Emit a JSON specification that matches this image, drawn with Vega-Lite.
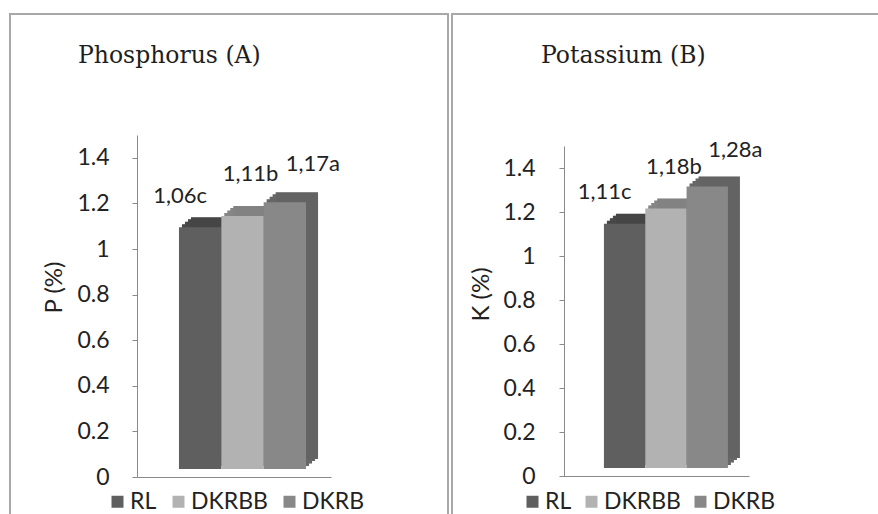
{
  "$schema": "https://vega.github.io/schema/vega-lite/v6.json",
  "background": "white",
  "padding": {"left": 9, "top": 13, "right": 0, "bottom": 0},
  "spacing": 2,
  "data": {"values": [
    {"panel": "P", "treatment": "RL", "value": 1.06, "label": "1,06c"},
    {"panel": "P", "treatment": "DKRBB", "value": 1.11, "label": "1,11b"},
    {"panel": "P", "treatment": "DKRB", "value": 1.17, "label": "1,17a"},
    {"panel": "K", "treatment": "RL", "value": 1.11, "label": "1,11c"},
    {"panel": "K", "treatment": "DKRBB", "value": 1.18, "label": "1,18b"},
    {"panel": "K", "treatment": "DKRB", "value": 1.28, "label": "1,28a"}
  ]},
  "resolve": {"scale": {"x": "independent", "y": "independent", "color": "independent"}, "legend": {"color": "independent"}},
  "hconcat": [
    {
      "width": 438, "height": 505,
      "transform": [{"filter": "datum.panel === 'P'"}],
      "title": {"text": "Phosphorus (A)", "anchor": "start", "frame": "group", "orient": "top", "offset": -53, "dx": 68, "font": "DejaVu Serif", "fontSize": 23.5, "fontWeight": "normal", "color": "#1e1e1e"},
      "encoding": {
        "x": {"field": "treatment", "type": "nominal", "sort": ["RL", "DKRBB", "DKRB"],
          "scale": {"range": [127, 321], "paddingInner": 0, "paddingOuter": 0.79, "align": 0.627},
          "axis": {"orient": "bottom", "offset": -42, "labels": false, "ticks": false, "title": null, "domain": true, "domainColor": "#8a8a8a", "domainWidth": 1}},
        "y": {"field": "value", "type": "quantitative",
          "scale": {"domain": [0, 1.5], "range": [463, 121], "nice": false, "zero": true},
          "axis": {"orient": "left", "offset": -127, "values": [0, 0.2, 0.4, 0.6, 0.8, 1, 1.2, 1.4], "format": "~g", "grid": false, "tickSize": 5, "tickColor": "#8a8a8a", "domainColor": "#8a8a8a", "labelPadding": 23, "labelFont": "Lato", "labelFontSize": 23, "labelColor": "#222", "title": "P (%)", "titleFont": "Lato", "titleFontSize": 24, "titleFontWeight": "normal", "titleColor": "#222", "titleX": -83, "titleY": 273, "titleBaseline": "middle", "titleAngle": -90, "titleAlign": "center"}},
        "color": {"field": "treatment", "type": "nominal", "sort": ["RL", "DKRBB", "DKRB"],
          "scale": {"domain": ["RL", "DKRBB", "DKRB"], "range": ["#5f5f5f", "#b2b2b2", "#888888"]},
          "legend": {"orient": "none", "legendX": 96, "legendY": 476, "direction": "horizontal", "title": null, "symbolType": "square", "symbolSize": 144, "symbolStrokeWidth": 0, "labelFont": "Lato", "labelFontSize": 23, "labelColor": "#222", "labelOffset": 1, "columnPadding": 10}}
      },
      "layer": [
        {"mark": {"type": "bar", "xOffset": 3, "x2Offset": 3, "yOffset": -11, "y2Offset": -11}},
        {"mark": {"type": "bar", "xOffset": 3, "x2Offset": 3, "yOffset": -11, "y2Offset": -11, "opacity": 0.25}, "encoding": {"color": {"value": "black"}}},
        {"mark": {"type": "bar", "xOffset": 6, "x2Offset": 6, "yOffset": -13.5, "y2Offset": -13.5}},
        {"mark": {"type": "bar", "xOffset": 6, "x2Offset": 6, "yOffset": -13.5, "y2Offset": -13.5, "opacity": 0.25}, "encoding": {"color": {"value": "black"}}},
        {"mark": {"type": "bar", "xOffset": 9, "x2Offset": 9, "yOffset": -16, "y2Offset": -16}},
        {"mark": {"type": "bar", "xOffset": 9, "x2Offset": 9, "yOffset": -16, "y2Offset": -16, "opacity": 0.25}, "encoding": {"color": {"value": "black"}}},
        {"mark": {"type": "bar", "xOffset": 12, "x2Offset": 12, "yOffset": -18, "y2Offset": -18}},
        {"mark": {"type": "bar", "xOffset": 12, "x2Offset": 12, "yOffset": -18, "y2Offset": -18, "opacity": 0.27}, "encoding": {"color": {"value": "black"}}},
        {"mark": {"type": "bar", "yOffset": -8, "y2Offset": -8}},
        {"mark": {"type": "text", "font": "Lato", "fontSize": 22, "baseline": "alphabetic", "align": "center",
            "dx": {"expr": "datum.treatment === 'RL' ? -20 : datum.treatment === 'DKRBB' ? 8 : 28"},
            "dy": {"expr": "datum.treatment === 'RL' ? -32 : datum.treatment === 'DKRBB' ? -43 : -39"}},
          "encoding": {"text": {"field": "label"}, "color": {"value": "#222"}}}
      ]
    },
    {
      "width": 440, "height": 505,
      "transform": [{"filter": "datum.panel === 'K'"}],
      "title": {"text": "Potassium (B)", "anchor": "start", "frame": "group", "orient": "top", "offset": -53, "dx": 89, "font": "DejaVu Serif", "fontSize": 23.5, "fontWeight": "normal", "color": "#1e1e1e"},
      "encoding": {
        "x": {"field": "treatment", "type": "nominal", "sort": ["RL", "DKRBB", "DKRB"],
          "scale": {"range": [111, 297], "paddingInner": 0, "paddingOuter": 0.75, "align": 0.66},
          "axis": {"orient": "bottom", "offset": -43, "labels": false, "ticks": false, "title": null, "domain": true, "domainColor": "#8a8a8a", "domainWidth": 1}},
        "y": {"field": "value", "type": "quantitative",
          "scale": {"domain": [0, 1.5], "range": [462, 132], "nice": false, "zero": true},
          "axis": {"orient": "left", "offset": -112, "values": [0, 0.2, 0.4, 0.6, 0.8, 1, 1.2, 1.4], "format": "~g", "grid": false, "tickSize": 5, "tickColor": "#8a8a8a", "domainColor": "#8a8a8a", "labelPadding": 24, "labelFont": "Lato", "labelFontSize": 23, "labelColor": "#222", "title": "K (%)", "titleFont": "Lato", "titleFontSize": 24, "titleFontWeight": "normal", "titleColor": "#222", "titleX": -83, "titleY": 280, "titleBaseline": "middle", "titleAngle": -90, "titleAlign": "center"}},
        "color": {"field": "treatment", "type": "nominal", "sort": ["RL", "DKRBB", "DKRB"],
          "scale": {"domain": ["RL", "DKRBB", "DKRB"], "range": ["#5f5f5f", "#b2b2b2", "#888888"]},
          "legend": {"orient": "none", "legendX": 69, "legendY": 476, "direction": "horizontal", "title": null, "symbolType": "square", "symbolSize": 144, "symbolStrokeWidth": 0, "labelFont": "Lato", "labelFontSize": 23, "labelColor": "#222", "labelOffset": 1, "columnPadding": 8}}
      },
      "layer": [
        {"mark": {"type": "bar", "xOffset": 3, "x2Offset": 3, "yOffset": -11, "y2Offset": -11}},
        {"mark": {"type": "bar", "xOffset": 3, "x2Offset": 3, "yOffset": -11, "y2Offset": -11, "opacity": 0.25}, "encoding": {"color": {"value": "black"}}},
        {"mark": {"type": "bar", "xOffset": 6, "x2Offset": 6, "yOffset": -13.5, "y2Offset": -13.5}},
        {"mark": {"type": "bar", "xOffset": 6, "x2Offset": 6, "yOffset": -13.5, "y2Offset": -13.5, "opacity": 0.25}, "encoding": {"color": {"value": "black"}}},
        {"mark": {"type": "bar", "xOffset": 9, "x2Offset": 9, "yOffset": -16, "y2Offset": -16}},
        {"mark": {"type": "bar", "xOffset": 9, "x2Offset": 9, "yOffset": -16, "y2Offset": -16, "opacity": 0.25}, "encoding": {"color": {"value": "black"}}},
        {"mark": {"type": "bar", "xOffset": 12, "x2Offset": 12, "yOffset": -18, "y2Offset": -18}},
        {"mark": {"type": "bar", "xOffset": 12, "x2Offset": 12, "yOffset": -18, "y2Offset": -18, "opacity": 0.27}, "encoding": {"color": {"value": "black"}}},
        {"mark": {"type": "bar", "yOffset": -8, "y2Offset": -8}},
        {"mark": {"type": "text", "font": "Lato", "fontSize": 22, "baseline": "alphabetic", "align": "center",
            "dx": {"expr": "datum.treatment === 'RL' ? -20 : datum.treatment === 'DKRBB' ? 8 : 28"},
            "dy": {"expr": "datum.treatment === 'RL' ? -33 : datum.treatment === 'DKRBB' ? -42 : -37"}},
          "encoding": {"text": {"field": "label"}, "color": {"value": "#222"}}}
      ]
    }
  ],
  "config": {
    "view": {"stroke": "#a8a8a8", "strokeWidth": 2},
    "bar": {"stroke": null}
  }
}
